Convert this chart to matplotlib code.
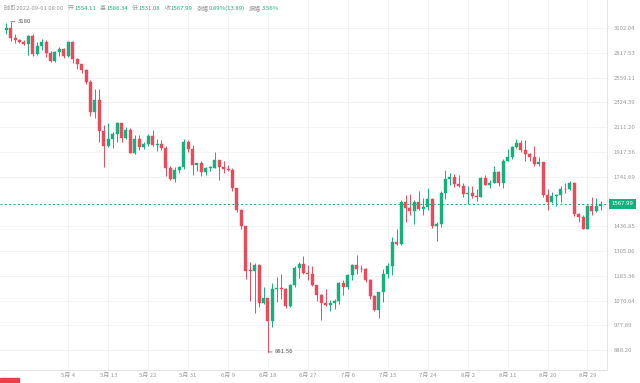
import numpy as np
import pandas as pd
import matplotlib
matplotlib.use("Agg")
import matplotlib.pyplot as plt
from matplotlib.patches import Rectangle

plt.rcParams["font.family"] = ["Noto Sans CJK SC", "DejaVu Sans"]

#
# Daily ETH candles, 2022-04-20 .. 2022-09-01
#
dates = pd.date_range("2022-04-20", "2022-09-01", freq="D")

opens = [
    # Apr 20-30
    3077, 3103, 2986, 2964, 2937, 2922, 3008, 2808, 2889, 2936, 2815,
    # May
    2727, 2826, 2857, 2782, 2940, 2749, 2694, 2636, 2518, 2243,
    2343, 2078, 1961, 2014, 2058, 2145, 2023, 2090, 1912, 2018,
    1958, 1975, 2043, 1972, 1978, 1944, 1802, 1725, 1791, 1812, 1997,
    # Jun
    1942, 1823, 1834, 1775, 1804, 1805, 1859, 1812, 1793, 1789,
    1665, 1529, 1437, 1209, 1208, 1237, 1068, 1086, 994, 1127,
    1128, 1126, 1052, 1144, 1224, 1243, 1199, 1193, 1142, 1099,
    # Jul
    1067, 1059, 1067, 1074, 1151, 1134, 1187, 1237, 1219, 1216,
    1168, 1097, 1038, 1112, 1192, 1233, 1353, 1339, 1581, 1542,
    1523, 1576, 1535, 1551, 1597, 1440, 1450, 1636, 1724, 1738, 1696,
    # Aug
    1678, 1631, 1636, 1616, 1609, 1731, 1689, 1700, 1776, 1702,
    1852, 1880, 1957, 1983, 1935, 1903, 1877, 1832, 1847, 1622,
    1577, 1618, 1624, 1662, 1659, 1697, 1506, 1491, 1423, 1553, 1524,
    # Sep 1
    1554.11,
]
highs = [
    3171, 3180, 3030, 2976, 2960, 3021, 3036, 2940, 2980, 2960, 2836,
    2838, 2887, 2872, 2955, 2957, 2759, 2702, 2649, 2540, 2452,
    2450, 2127, 2150, 2073, 2157, 2145, 2110, 2104, 2045, 2045,
    1990, 2055, 2085, 2015, 2010, 1960, 1813, 1808, 1815, 2015, 2010,
    1972, 1838, 1855, 1810, 1818, 1918, 1861, 1848, 1820, 1805,
    1670, 1536, 1440, 1250, 1245, 1240, 1133, 1088, 1152, 1180,
    1195, 1130, 1150, 1230, 1250, 1280, 1237, 1230, 1145, 1103,
    1125, 1080, 1085, 1155, 1165, 1193, 1240, 1285, 1235, 1220,
    1172, 1100, 1113, 1215, 1247, 1380, 1420, 1590, 1620, 1630,
    1590, 1645, 1605, 1664, 1603, 1459, 1645, 1785, 1768, 1760, 1752,
    1697, 1680, 1680, 1660, 1740, 1752, 1723, 1815, 1780, 1869,
    1942, 1962, 2020, 2010, 2012, 1910, 1960, 1880, 1847, 1660,
    1640, 1630, 1680, 1700, 1712, 1705, 1510, 1500, 1560, 1612, 1605,
    1586.34,
]
lows = [
    3038, 2955, 2933, 2930, 2903, 2790, 2785, 2792, 2855, 2777, 2722,
    2715, 2780, 2762, 2774, 2711, 2652, 2604, 2500, 2207, 2192,
    1990, 1808, 1952, 1950, 1991, 1990, 2020, 1910, 1905, 1930,
    1940, 1960, 1960, 1925, 1935, 1750, 1720, 1705, 1770, 1795, 1918,
    1753, 1778, 1745, 1751, 1780, 1804, 1722, 1765, 1778, 1650,
    1520, 1420, 1172, 1075, 1025, 1050, 1061, 881.56, 970, 1070,
    1085, 1045, 1048, 1135, 1175, 1195, 1168, 1140, 1075, 997,
    1055, 1035, 1040, 1061, 1100, 1125, 1165, 1193, 1205, 1156,
    1085, 1035, 1006, 1070, 1176, 1190, 1336, 1338, 1458, 1500,
    1452, 1531, 1502, 1531, 1425, 1356, 1432, 1595, 1686, 1675, 1673,
    1610, 1565, 1605, 1584, 1608, 1688, 1670, 1700, 1680, 1667,
    1850, 1865, 1950, 1920, 1855, 1850, 1815, 1818, 1610, 1530,
    1570, 1553, 1580, 1635, 1655, 1495, 1460, 1423, 1422, 1500, 1520,
    1531.08,
]
closes = opens[1:] + [1567.99]

tick_dates = [
    "2022-05-04", "2022-05-13", "2022-05-22", "2022-05-31", "2022-06-09",
    "2022-06-18", "2022-06-27", "2022-07-06", "2022-07-15", "2022-07-24",
    "2022-08-02", "2022-08-11", "2022-08-20", "2022-08-29",
]
tick_labels = [
    "5月 4", "5月 13", "5月 22", "5月 31", "6月 9", "6月 18", "6月 27",
    "7月 6", "7月 15", "7月 24", "8月 2", "8月 11", "8月 20", "8月 29",
]
price_ticks = [
    3102.04, 2817.53, 2559.11, 2324.39, 2111.20, 1917.56, 1741.69,
    1436.85, 1305.06, 1185.36, 1076.64, 977.89, 888.20,
]
last_price = 1567.99

# (label, value) pairs of the info line, with the x where each pair starts
header = [
    ("时间", "2022-09-01 08:00"),
    ("开", "1554.11"),
    ("高", "1586.34"),
    ("低", "1531.08"),
    ("收", "1567.99"),
    ("涨幅", "0.89%(13.89)"),
    ("振幅", "3.56%"),
]
header_x = [4, 67, 94, 121, 149, 184, 239]

GREEN = "#16b07e"
RED = "#e94b5c"
GRID = "#f2f2f2"
TXT = "#9a9a9a"
FS = 4.3


def main():
    o = np.array(opens, dtype=float)
    h = np.array(highs, dtype=float)
    l = np.array(lows, dtype=float)
    c = np.array(closes, dtype=float)
    x = np.arange(len(dates))
    up = c >= o
    colors = np.where(up, GREEN, RED)

    fig = plt.figure(figsize=(6.4, 3.83), dpi=100)
    ax = fig.add_axes([0, 13 / 383, 607 / 640, 370 / 383])

    #
    # grid
    #
    tick_pos = [dates.get_loc(pd.Timestamp(d)) for d in tick_dates]
    for t in tick_pos:
        ax.axvline(t, color=GRID, linewidth=0.6, zorder=0)
    for p in price_ticks:
        ax.axhline(p, color=GRID, linewidth=0.6, zorder=0)

    #
    # candles
    #
    ax.vlines(x, l, h, colors=colors, linewidth=0.7, zorder=2)
    bottom = np.minimum(o, c)
    height = np.maximum(np.abs(c - o), bottom * 0.002)
    ax.bar(x, height, bottom=bottom, width=0.68, color=colors,
           edgecolor=colors, linewidth=0.3, zorder=3)

    # current price
    ax.axhline(last_price, color=GREEN, linewidth=0.7,
               linestyle=(0, (2, 2.5)), zorder=1)

    ax.set_yscale("log")
    ax.set_ylim(821.9, 3461)
    ax.set_xlim(-1.39, 135.4)

    ax.yaxis.tick_right()
    ax.set_yticks(price_ticks)
    ax.set_yticklabels([f"{p:.2f}" for p in price_ticks])
    ax.yaxis.set_minor_locator(matplotlib.ticker.NullLocator())
    ax.tick_params(axis="y", length=0, pad=5, labelsize=FS, labelcolor=TXT)

    ax.set_xticks(tick_pos)
    ax.set_xticklabels(tick_labels)
    ax.tick_params(axis="x", length=0, pad=2, labelsize=FS, labelcolor=TXT)

    for side in ["top", "left"]:
        ax.spines[side].set_visible(False)
    for side in ["bottom", "right"]:
        ax.spines[side].set_color("#e4e4e4")
        ax.spines[side].set_linewidth(0.7)

    # price badge on the axis
    ax.annotate(f"{last_price:.2f}", xy=(1, last_price),
                xycoords=("axes fraction", "data"), xytext=(3.5, 0),
                textcoords="offset points", ha="left", va="center",
                color="white", fontsize=FS, annotation_clip=False,
                bbox=dict(boxstyle="square,pad=0.4", fc=GREEN, ec="none"))

    # high / low marks
    hi = int(np.argmax(h))
    lo = int(np.argmin(l))
    for idx, val in [(hi, h[hi]), (lo, l[lo])]:
        ax.annotate(f"{val:g}", xy=(idx, val), xytext=(5, 0),
                    textcoords="offset points", ha="left", va="center",
                    fontsize=FS, color="#555555",
                    arrowprops=dict(arrowstyle="-", color="#555555",
                                    lw=0.5, shrinkA=0, shrinkB=0))

    #
    # header line: gray label followed directly by its value
    #
    renderer = fig.canvas.get_renderer()
    y_hdr = 1 - 8 / 383
    prev_end = 0
    for (lab, val), px in zip(header, header_x):
        px = max(px, prev_end + 4)
        t1 = fig.text(px / 640, y_hdr, lab, ha="left", va="center",
                      fontsize=FS, color=TXT)
        end = t1.get_window_extent(renderer).x1
        vcol = TXT if lab == "时间" else GREEN
        t2 = fig.text((end + 0.5) / 640, y_hdr, val, ha="left", va="center",
                      fontsize=FS, color=vcol)
        prev_end = t2.get_window_extent(renderer).x1

    fig.patches.append(Rectangle((0, 0), 19 / 640, 5 / 383,
                                 transform=fig.transFigure,
                                 color="#e8414a", zorder=5))

    fig.savefig("out.png", dpi=100)


if __name__ == "__main__":
    main()
